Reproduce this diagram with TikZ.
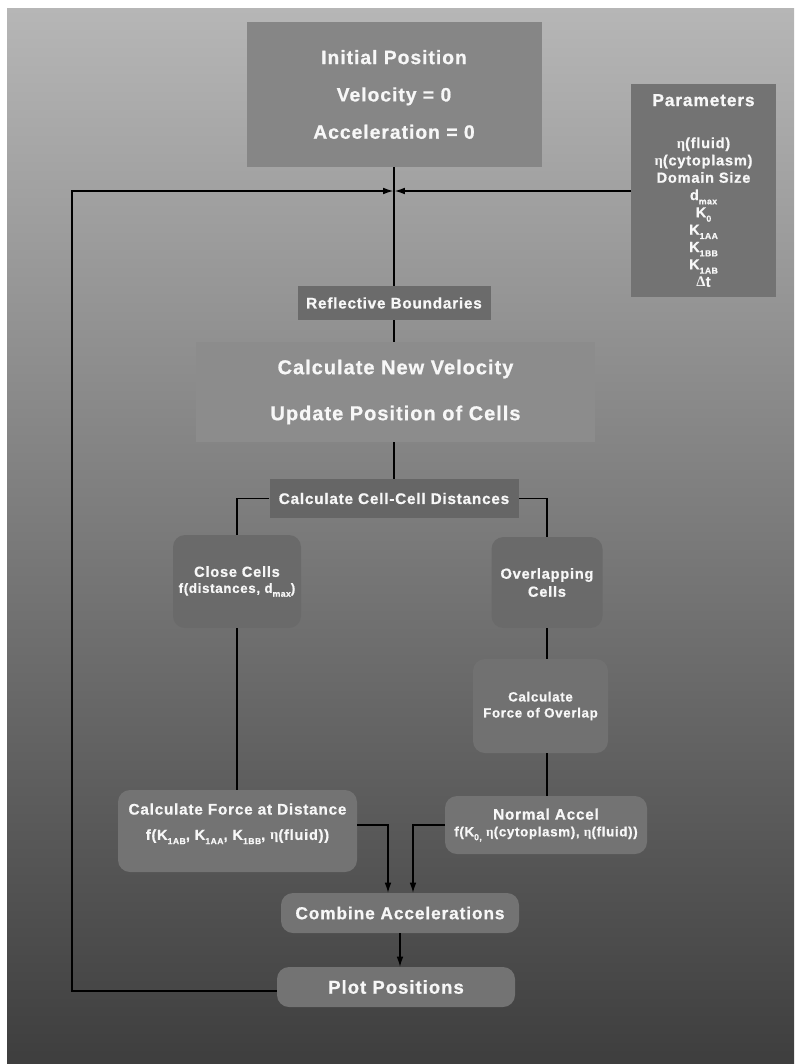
\documentclass[tikz,border=0pt]{standalone}
\usepackage{fontspec}
\setmainfont{Liberation Sans}[LetterSpace=5,BoldFeatures={FakeBold=0.8}]
\newfontfamily\grk{Liberation Serif}
\usepackage{xcolor}
\usetikzlibrary{
    arrows.meta,
    shapes,
    positioning,
    calc
}
\definecolor{bgtop}{HTML}{B6B6B6}
\definecolor{bgbot}{HTML}{3E3E3E}
\definecolor{initc}{HTML}{868686}
\definecolor{parc}{HTML}{737373}
\definecolor{refc}{HTML}{6B6B6B}
\definecolor{cnvc}{HTML}{8C8C8C}
\definecolor{cellc}{HTML}{666666}
\definecolor{smc}{HTML}{6A6A6A}
\definecolor{fovc}{HTML}{717171}
\definecolor{accc}{HTML}{737373}
\newcommand{\visc}{{\grk η}}
\newcommand{\lo}[1]{\raisebox{-0.55ex}{\fontsize{6.5}{7}\selectfont #1}}

\begin{document}
\begin{tikzpicture}[x=0.75pt,y=-0.75pt,
    box/.style={fill=#1,draw=none,inner sep=0pt,align=center,text=white!97!black},
    rbox/.style={box=#1,rounded corners=9pt},
    sz/.style 2 args={minimum width=#1*0.75pt,minimum height=#2*0.75pt},
    line/.style={draw=black,line width=0.9pt},
    arr/.style={line,-{Latex[length=7.5pt,width=5pt]}}]
                \useasboundingbox (0,0) rectangle (794,1064);
                \fill[white] (0,0) rectangle (794,1064);
                \shade[top color=bgtop,bottom color=bgbot] (7,8) rectangle (794,1064);
                % boxes
                \node[box=initc,sz={295}{145},font=\bfseries\fontsize{14.5}{28}\selectfont] (init) at (394,94.5) {Initial Position\\Velocity = 0\\Acceleration = 0};
                \node[box=parc,sz={145}{213},font=\bfseries\fontsize{11}{13}\selectfont] (params) at (703.5,190.5) {{\fontsize{13}{13}\selectfont Parameters}\\[18.5pt]\visc(fluid)\\\visc(cytoplasm)\\Domain Size\\d\lo{max}\\K\lo{0}\\K\lo{1AA}\\K\lo{1BB}\\K\lo{1AB}\\{\grk Δ}t};
                \node[box=refc,sz={193}{34},font=\bfseries\fontsize{11.5}{14}\selectfont] (reflect) at (394,303) {Reflective Boundaries};
                \node[box=cnvc,sz={399}{100},font=\bfseries\fontsize{15}{34.5}\selectfont] (cnv) at (395.5,392) {Calculate New Velocity\\Update Position of Cells};
                \node[box=cellc,sz={249}{39},font=\bfseries\fontsize{11.5}{14}\selectfont] (dist) at (394,498.5) {Calculate Cell-Cell Distances};
                \node[rbox=smc,sz={128}{93},font=\bfseries\fontsize{11}{12}\selectfont] (close) at (237,581.5) {Close Cells\\{\fontsize{10}{12}\selectfont f(distances, d\lo{max})}};
                \node[rbox=smc,sz={111}{91},font=\bfseries\fontsize{11}{13.5}\selectfont] (overlap) at (547,582.5) {Overlapping\\Cells};
                \node[rbox=fovc,sz={135}{94},font=\bfseries\fontsize{10}{12}\selectfont] (fover) at (540.5,706) {Calculate\\Force of Overlap};
                \node[rbox=accc,sz={239}{82},font=\bfseries\fontsize{11.5}{19}\selectfont] (cfad) at (237.5,831) {Calculate Force at Distance\\{\fontsize{11}{19}\selectfont f(K\lo{1AB}, K\lo{1AA}, K\lo{1BB}, \visc(fluid))}\\[-5pt]~};
                \node[rbox=accc,sz={202}{58},font=\bfseries\fontsize{11.5}{12.5}\selectfont] (normal) at (546,825) {Normal Accel\\{\fontsize{10}{12}\selectfont f(K\lo{0,} \visc(cytoplasm), \visc(fluid))}};
                \node[rbox=accc,sz={238}{40},font=\bfseries\fontsize{13}{15}\selectfont] (combine) at (400,913) {Combine Accelerations};
                \node[rbox=accc,sz={238}{40},font=\bfseries\fontsize{14}{16}\selectfont] (plot) at (396,987) {Plot Positions};
                % feedback loop and parameters
                \coordinate (lp) at (72,991);
                \coordinate (lt) at (72,191);
                \draw[line] (init.south) -- (init.south |- reflect.north);
                \draw[arr] (plot.west |- lp) -- (lp) -- (lt) -- ([xshift=-0.6pt]init.south |- lt);
                \draw[arr] (params.west |- lt) -- ([xshift=0.6pt]init.south |- lt);
                % main chain
                \draw[line] (reflect.south) -- (reflect.south |- cnv.north);
                \draw[line] (dist.north |- cnv.south) -- (dist.north);
                \draw[line] (dist.west) -| (close.north);
                \draw[line] (dist.east) -| (overlap.north);
                \draw[line] (close.south) -- (close.south |- cfad.north);
                \draw[line] (overlap.south) -- (overlap.south |- fover.north);
                \draw[line] (overlap.south |- fover.south) -- (overlap.south |- normal.north);
                \draw[arr] (cfad.east |- normal.west) -| ([xshift=-9pt]combine.north);
                \draw[arr] (normal.west) -| ([xshift=9.75pt]combine.north);
                \draw[arr] (combine.south) -- (combine.south |- plot.north);
            \end{tikzpicture}
\end{document}
